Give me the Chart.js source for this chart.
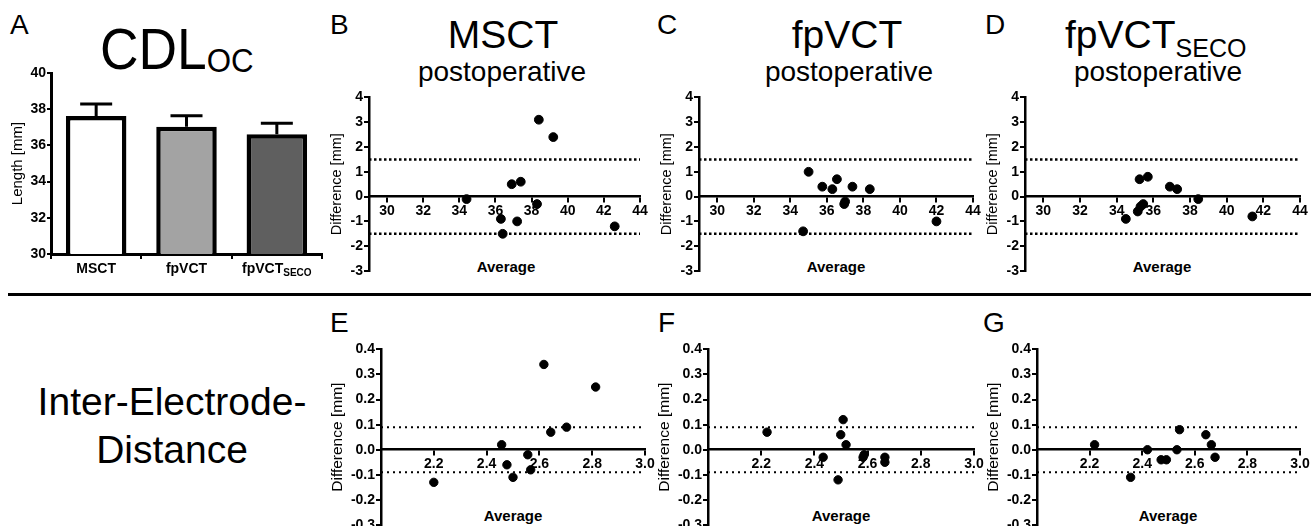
<!DOCTYPE html>
<html>
<head>
<meta charset="utf-8">
<script src="https://cdn.jsdelivr.net/npm/chart.js@4.4.1/dist/chart.umd.min.js"></script>
<style>
body { margin: 0; width: 1311px; height: 526px; overflow: hidden; background: #fff; position: relative;
       font-family: "Liberation Sans", Arial, sans-serif; color: #000; }
canvas { position: absolute; }
.t { position: absolute; line-height: 1; white-space: nowrap; }
.c { transform: translateX(-50%); }
.lbl { font-size: 28px; }
.big { font-size: 39px; }
.sub { font-size: 28px; }
.avg { font-size: 15px; font-weight: bold; }
#sep { position: absolute; left: 8px; top: 293px; width: 1303px; height: 3px; background: #000; }
</style>
</head>
<body>

<div class="t lbl" style="left:10px;top:11px">A</div>
<div class="t lbl" style="left:330px;top:11px">B</div>
<div class="t lbl" style="left:657px;top:11px">C</div>
<div class="t lbl" style="left:985px;top:11px">D</div>
<div class="t lbl" style="left:330px;top:309px">E</div>
<div class="t lbl" style="left:658px;top:309px">F</div>
<div class="t lbl" style="left:983px;top:309px">G</div>

<div class="t" style="left:100px;top:20px;font-size:58px;transform:scaleX(0.92);transform-origin:left top">CDL<span style="font-size:34px;position:relative;top:3px">OC</span></div>
<div class="t big c" style="left:503px;top:15px">MSCT</div>
<div class="t sub c" style="left:502px;top:58px">postoperative</div>
<div class="t big c" style="left:847px;top:15px">fpVCT</div>
<div class="t sub c" style="left:849px;top:58px">postoperative</div>
<div class="t big" style="left:1065px;top:15px">fpVCT<span style="font-size:25px;position:relative;top:9px">SECO</span></div>
<div class="t sub c" style="left:1158px;top:58px">postoperative</div>

<div class="t avg c" style="left:506px;top:259px">Average</div>
<div class="t avg c" style="left:836px;top:259px">Average</div>
<div class="t avg c" style="left:1162px;top:259px">Average</div>
<div class="t avg c" style="left:513px;top:508px">Average</div>
<div class="t avg c" style="left:841px;top:508px">Average</div>
<div class="t avg c" style="left:1168px;top:508px">Average</div>

<div id="sep"></div>
<div class="t big c" style="left:172px;top:382px">Inter-Electrode-</div>
<div class="t big c" style="left:172px;top:430px">Distance</div>

<canvas id="js--cdl"></canvas>
<canvas id="js--msct"></canvas>
<canvas id="js--fpvct"></canvas>
<canvas id="js--seco"></canvas>
<canvas id="js--ied-msct"></canvas>
<canvas id="js--ied-fpvct"></canvas>
<canvas id="js--ied-seco"></canvas>

<script>
// A: CDL_OC mittelwert + SEM
var cdlCategories = ['MSCT', 'fpVCT', 'fpVCT_SECO'];
var cdlMeans = [37.62, 37.03, 36.61];
var cdlSem = [0.67, 0.61, 0.61];
var cdlColors = ['#ffffff', '#a3a3a3', '#5f5f5f'];
var cdlTicks = [30, 32, 34, 36, 38, 40];

// Bland-Altman CDL (B, C, D)
var msctAvg = [34.4, 36.3, 36.4, 36.9, 37.2, 37.4, 38.3, 38.4, 39.2, 42.6];
var msctDiff = [-0.1, -0.9, -1.5, 0.5, -1.0, 0.6, -0.3, 3.1, 2.4, -1.2];
var fpvctAvg = [34.7, 35.0, 35.75, 36.3, 36.55, 36.95, 37.0, 37.4, 38.35, 42.0];
var fpvctDiff = [-1.4, 1.0, 0.4, 0.3, 0.7, -0.3, -0.2, 0.4, 0.3, -1.0];
var secoAvg = [34.5, 35.15, 35.25, 35.3, 35.45, 35.7, 36.9, 37.3, 38.45, 41.4];
var secoDiff = [-0.9, -0.6, 0.7, -0.4, -0.3, 0.8, 0.4, 0.3, -0.1, -0.8];
var cdlLimit = 1.5;
var cdlAvgTicks = [30, 32, 34, 36, 38, 40, 42, 44];
var cdlDiffTicks = [-3, -2, -1, 0, 1, 2, 3, 4];

// Bland-Altman inter-electrode distance (E, F, G)
var iedMsctAvg = [2.2, 2.457, 2.477, 2.5, 2.556, 2.567, 2.617, 2.643, 2.703, 2.813];
var iedMsctDiff = [-0.13, 0.02, -0.06, -0.11, -0.02, -0.08, 0.34, 0.07, 0.09, 0.25];
var iedFpvctAvg = [2.222, 2.433, 2.489, 2.499, 2.508, 2.519, 2.583, 2.587, 2.665, 2.665];
var iedFpvctDiff = [0.07, -0.03, -0.12, 0.06, 0.12, 0.02, -0.03, -0.02, -0.03, -0.05];
var iedSecoAvg = [2.219, 2.356, 2.42, 2.472, 2.492, 2.532, 2.542, 2.642, 2.663, 2.677];
var iedSecoDiff = [0.02, -0.11, 0.0, -0.04, -0.04, 0.0, 0.08, 0.06, 0.02, -0.03];
var iedLimit = 0.09;
var iedAvgTicks = [2.2, 2.4, 2.6, 2.8, 3.0];
var iedDiffTicks = [-0.3, -0.2, -0.1, 0.0, 0.1, 0.2, 0.3, 0.4];

var FONT = '"Liberation Sans", Arial, sans-serif';
Chart.defaults.font.family = FONT;
Chart.defaults.color = '#000';

function tickList(arr) {
    return function (ax) { ax.ticks = arr.map(function (v) { return { value: v }; }); };
}

// foutbalken (alleen naar boven)
var errorBars = {
    id: 'errorBars',
    afterDatasetsDraw: function (chart) {
        var ctx = chart.ctx, y = chart.scales.y;
        ctx.save();
        ctx.strokeStyle = '#000';
        ctx.lineWidth = 3;
        chart.getDatasetMeta(0).data.forEach(function (bar, i) {
            var top = y.getPixelForValue(cdlMeans[i]);
            var cap = y.getPixelForValue(cdlMeans[i] + cdlSem[i]);
            ctx.beginPath();
            ctx.moveTo(bar.x, top);
            ctx.lineTo(bar.x, cap);
            ctx.moveTo(bar.x - 16, cap);
            ctx.lineTo(bar.x + 16, cap);
            ctx.stroke();
        });
        ctx.restore();
    }
};

// categorie labels met subscript
var subLabels = {
    id: 'subLabels',
    afterDraw: function (chart) {
        var ctx = chart.ctx, xs = chart.scales.x;
        ctx.save();
        ctx.fillStyle = '#000';
        ctx.textAlign = 'left';
        ctx.textBaseline = 'alphabetic';
        cdlCategories.forEach(function (c, i) {
            var parts = c.split('_');
            ctx.font = 'bold 14px ' + FONT;
            var w1 = ctx.measureText(parts[0]).width;
            var w2 = 0;
            if (parts[1]) {
                ctx.font = 'bold 10px ' + FONT;
                w2 = ctx.measureText(parts[1]).width;
            }
            var x0 = xs.getPixelForTick(i) - (w1 + w2) / 2;
            var base = xs.top + 19;
            ctx.font = 'bold 14px ' + FONT;
            ctx.fillText(parts[0], x0, base);
            if (parts[1]) {
                ctx.font = 'bold 10px ' + FONT;
                ctx.fillText(parts[1], x0 + w1, base + 2.5);
            }
        });
        ctx.restore();
    }
};

var cv = document.getElementById('js--cdl');
cv.width = 340; cv.height = 220;
cv.style.left = '0px'; cv.style.top = '60px';
new Chart(cv, {
    type: 'bar',
    data: {
        labels: cdlCategories,
        datasets: [{
            data: cdlMeans,
            backgroundColor: cdlColors,
            borderColor: '#000',
            borderWidth: 4.5,
            borderSkipped: false,
            barPercentage: 0.67,
            categoryPercentage: 1
        }]
    },
    options: {
        responsive: false, animation: false, devicePixelRatio: 1,
        layout: { padding: { top: 13, right: 18, bottom: 0, left: 0 } },
        plugins: { legend: { display: false }, tooltip: { enabled: false } },
        scales: {
            x: {
                grid: { drawOnChartArea: false, tickLength: 5, color: '#000', lineWidth: 2 },
                border: { color: '#000', width: 3 },
                ticks: { callback: function () { return ''; }, padding: 0 },
                afterFit: function (ax) { ax.height = 26; }
            },
            y: {
                min: 30, max: 40,
                afterBuildTicks: tickList(cdlTicks),
                grid: { drawOnChartArea: false, tickLength: 4, color: '#000', lineWidth: 2 },
                border: { color: '#000', width: 3 },
                ticks: { font: { size: 14, weight: 'bold' }, padding: 1 },
                title: { display: true, text: 'Length [mm]', font: { size: 15 }, padding: { top: 9, bottom: 0 } },
                afterFit: function (ax) { ax.width = 51; }
            }
        }
    },
    plugins: [errorBars, subLabels]
});

function blandAltman(id, box, avg, diff, limit, xr, yr, xTicks, yTicks, st) {
    var c = document.getElementById(id);
    c.width = box.r - box.l + st.yW + 18;
    c.height = box.b - box.t + 8 + 14;
    c.style.left = (box.l - st.yW) + 'px';
    c.style.top = (box.t - 8) + 'px';
    var pts = avg.map(function (a, i) { return { x: a, y: diff[i] }; });
    var limitLine = function (v) {
        return {
            type: 'line',
            data: [{ x: xr[0], y: v }, { x: xr[1], y: v }],
            borderColor: '#000', borderWidth: st.lw, borderDash: st.dash,
            pointRadius: 0, fill: false
        };
    };
    new Chart(c, {
        type: 'scatter',
        data: {
            datasets: [
                { data: pts, backgroundColor: '#000', borderColor: '#000', pointRadius: st.r, pointHoverRadius: st.r },
                limitLine(limit),
                limitLine(-limit)
            ]
        },
        options: {
            responsive: false, animation: false, devicePixelRatio: 1,
            layout: { padding: { top: 8, right: 18, bottom: 14, left: 0 } },
            plugins: { legend: { display: false }, tooltip: { enabled: false } },
            scales: {
                x: {
                    type: 'linear', min: xr[0], max: xr[1], position: { y: 0 },
                    afterBuildTicks: tickList(xTicks),
                    grid: { drawOnChartArea: false, tickLength: 5, color: '#000', lineWidth: 2 },
                    border: { color: '#000', width: 2.5 },
                    ticks: { font: { size: 14, weight: 'bold' }, padding: 1, maxRotation: 0, autoSkip: false, callback: st.fx }
                },
                y: {
                    min: yr[0], max: yr[1],
                    afterBuildTicks: tickList(yTicks),
                    grid: { drawOnChartArea: false, tickLength: 5, color: '#000', lineWidth: 2 },
                    border: { color: '#000', width: 2.5 },
                    ticks: { font: { size: 14, weight: 'bold' }, padding: 1, callback: st.fy },
                    title: { display: true, text: 'Difference [mm]', font: { size: st.tf }, padding: { top: st.tp, bottom: 0 } },
                    afterFit: function (ax) { ax.width = st.yW; }
                }
            }
        }
    });
}

var topStyle = {
    yW: 50, r: 4.4, lw: 2.5, dash: [2.5, 2.5], tf: 14.5, tp: 9,
    fx: function (v) { return String(v); }, fy: function (v) { return String(v); }
};
var bottomStyle = {
    yW: 60, r: 4.2, lw: 2, dash: [2, 4], tf: 15.5, tp: 7,
    fx: function (v) { return v.toFixed(1); }, fy: function (v) { return v.toFixed(1); }
};

blandAltman('js--msct', { l: 369, r: 640, t: 96, b: 271 }, msctAvg, msctDiff, cdlLimit, [29, 44], [-3, 4], cdlAvgTicks, cdlDiffTicks, topStyle);
blandAltman('js--fpvct', { l: 699, r: 973, t: 96, b: 271 }, fpvctAvg, fpvctDiff, cdlLimit, [29, 44], [-3, 4], cdlAvgTicks, cdlDiffTicks, topStyle);
blandAltman('js--seco', { l: 1025, r: 1300, t: 96, b: 271 }, secoAvg, secoDiff, cdlLimit, [29, 44], [-3, 4], cdlAvgTicks, cdlDiffTicks, topStyle);

blandAltman('js--ied-msct', { l: 381, r: 645, t: 348, b: 525 }, iedMsctAvg, iedMsctDiff, iedLimit, [2.0, 3.0], [-0.3, 0.4], iedAvgTicks, iedDiffTicks, bottomStyle);
blandAltman('js--ied-fpvct', { l: 708, r: 974, t: 348, b: 525 }, iedFpvctAvg, iedFpvctDiff, iedLimit, [2.0, 3.0], [-0.3, 0.4], iedAvgTicks, iedDiffTicks, bottomStyle);
blandAltman('js--ied-seco', { l: 1037, r: 1300, t: 348, b: 525 }, iedSecoAvg, iedSecoDiff, iedLimit, [2.0, 3.0], [-0.3, 0.4], iedAvgTicks, iedDiffTicks, bottomStyle);
</script>
</body>
</html>
